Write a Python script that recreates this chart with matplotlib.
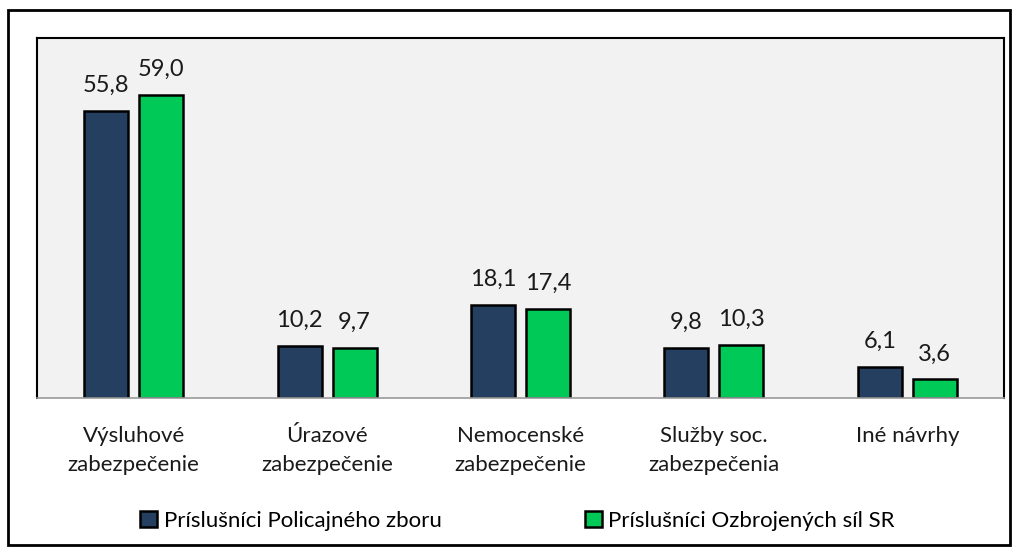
import numpy as np
import matplotlib.pyplot as plt
from matplotlib.patches import Rectangle

plt.rcParams['font.family'] = ['Lato', 'DejaVu Sans']

# data
categories = ['Výsluhové\nzabezpečenie', 'Úrazové\nzabezpečenie', 'Nemocenské\nzabezpečenie',
              'Služby soc.\nzabezpečenia', 'Iné návrhy']
policia = [55.8, 10.2, 18.1, 9.8, 6.1]
ozbrojene = [59.0, 9.7, 17.4, 10.3, 3.6]
series_names = ['Príslušníci Policajného zboru', 'Príslušníci Ozbrojených síl SR']

dark = '#243F60'
green = '#00C957'

fig = plt.figure(figsize=(10.19, 5.55), dpi=100)
fig.patches.append(Rectangle((8 / 1019, 1 - 545 / 555), 1002 / 1019, 535 / 555,
                             transform=fig.transFigure, fill=False, edgecolor='black', linewidth=2))

ax = fig.add_axes([37 / 1019, 1 - 398 / 555, 967 / 1019, 360 / 555])
ax.set_facecolor('#F2F2F2')

x = np.arange(len(categories))
w = 0.228
off = 0.142
b1 = ax.bar(x - off, policia, w, color=dark, edgecolor='black', linewidth=1.8, label=series_names[0])
b2 = ax.bar(x + off, ozbrojene, w, color=green, edgecolor='black', linewidth=1.8, label=series_names[1])

for bars, vals in [(b1, policia), (b2, ozbrojene)]:
    for rect, v in zip(bars, vals):
        ax.text(rect.get_x() + rect.get_width() / 2, v + 2.9, f'{v:.1f}'.replace('.', ','),
                ha='center', va='bottom', fontsize=17, color='#1a1a1a')

ax.set_xlim(-0.5, 4.5)
ax.set_ylim(0, 70)
ax.set_yticks([])
ax.set_xticks(x)
ax.set_xticklabels(categories, fontsize=16, color='#1a1a1a', linespacing=1.6)
ax.tick_params(axis='x', length=0, pad=20)
for s in ['top', 'left', 'right']:
    ax.spines[s].set_color('black')
    ax.spines[s].set_linewidth(1.5)
ax.spines['bottom'].set_color('#9a9a9a')
ax.spines['bottom'].set_linewidth(1.2)

fig.legend(handles=[b1, b2], labels=series_names, loc='center', bbox_to_anchor=(0.508, 1 - 521 / 555),
           ncol=2, frameon=False, fontsize=16, handlelength=0.75, handleheight=0.75,
           handletextpad=0.3, columnspacing=6.45)

fig.savefig('out.png', dpi=100)
